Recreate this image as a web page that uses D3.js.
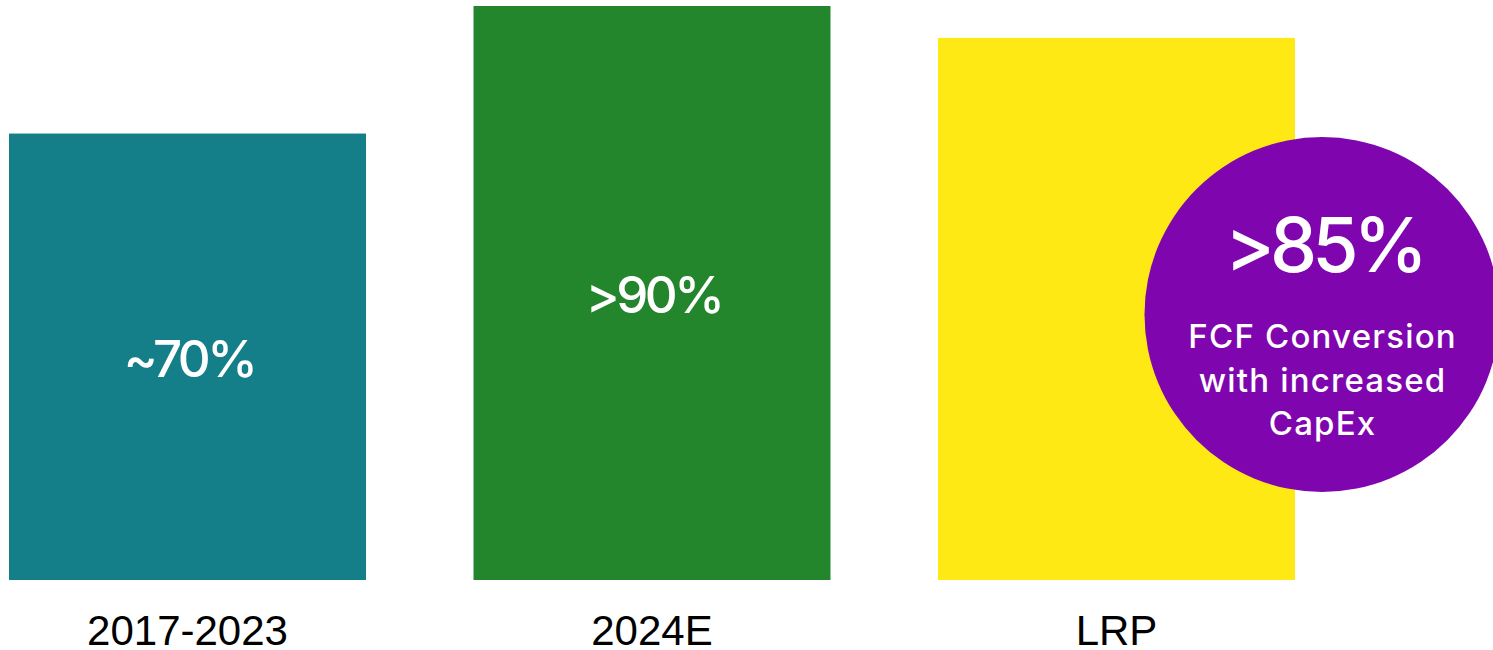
<!DOCTYPE html>
<html>
<head>
<meta charset="utf-8">
<script src="https://cdn.jsdelivr.net/npm/d3@7"></script>
<style>
  html, body { margin: 0; padding: 0; background: #ffffff; overflow: hidden; }
  svg { display: block; }
</style>
</head>
<body>
<svg id="chart" width="1493" height="650"></svg>
<script>
// FCF conversion by period
const categories = ["2017-2023", "2024E", "LRP"];
const values = [70, 90, 85];
const valueLabels = ["~70%", ">90%", ">85%"];
const barColors = ["#147f88", "#23862c", "#ffe914"];
const calloutLines = ["FCF Conversion", "with increased", "CapEx"];

const svg = d3.select("#chart");

const x = d3.scaleBand()
  .domain(categories)
  .range([9, 1295])
  .paddingInner(0.2314)
  .paddingOuter(0);

const y = d3.scaleLinear()
  .domain([0, 90])
  .range([580, 6]);

const valueFont = "Inter, 'Open Sans', sans-serif";
const axisFont = "'Liberation Sans', Arial, sans-serif";

// bars
svg.selectAll("rect.bar")
  .data(categories)
  .join("rect")
  .attr("class", "bar")
  .attr("x", d => x(d))
  .attr("y", (d, i) => y(values[i]))
  .attr("width", x.bandwidth())
  .attr("height", (d, i) => y(0) - y(values[i]))
  .attr("fill", (d, i) => barColors[i]);

// value labels inside the first two bars
svg.selectAll("text.value")
  .data(categories.slice(0, 2))
  .join("text")
  .attr("class", "value")
  .attr("x", d => x(d) + x.bandwidth() / 2 + 1.5)
  .attr("y", (d, i) => (y(values[i]) + y(0)) / 2 + 20)
  .attr("text-anchor", "middle")
  .attr("font-family", valueFont)
  .attr("font-size", 51)
  .attr("font-weight", 500)
  .attr("letter-spacing", -3.5)
  .attr("fill", "#ffffff")
  .text((d, i) => valueLabels[i]);

// category labels
svg.selectAll("text.cat")
  .data(categories)
  .join("text")
  .attr("class", "cat")
  .attr("x", d => x(d) + x.bandwidth() / 2)
  .attr("y", 645)
  .attr("text-anchor", "middle")
  .attr("font-family", axisFont)
  .attr("font-size", 42)
  .attr("fill", "#000000")
  .text(d => d);

// callout circle for the LRP bar
const lrp = categories[2];
const cx = x(lrp) + x.bandwidth() + 27;
const cy = 314.5;
const callout = svg.append("g");
callout.append("circle")
  .attr("cx", cx)
  .attr("cy", cy)
  .attr("r", 177.5)
  .attr("fill", "#7f06ae");

callout.append("text")
  .attr("x", cx + 2)
  .attr("y", 272)
  .attr("text-anchor", "middle")
  .attr("font-family", valueFont)
  .attr("font-size", 75)
  .attr("font-weight", 500)
  .attr("letter-spacing", -5)
  .attr("fill", "#ffffff")
  .text(valueLabels[2]);

callout.selectAll("text.line")
  .data(calloutLines)
  .join("text")
  .attr("class", "line")
  .attr("x", cx + 0.6)
  .attr("y", (d, i) => 348 + i * 43.5)
  .attr("text-anchor", "middle")
  .attr("font-family", valueFont)
  .attr("font-size", 33)
  .attr("font-weight", 500)
  .attr("letter-spacing", 1.2)
  .attr("fill", "#ffffff")
  .text(d => d);
</script>
</body>
</html>
